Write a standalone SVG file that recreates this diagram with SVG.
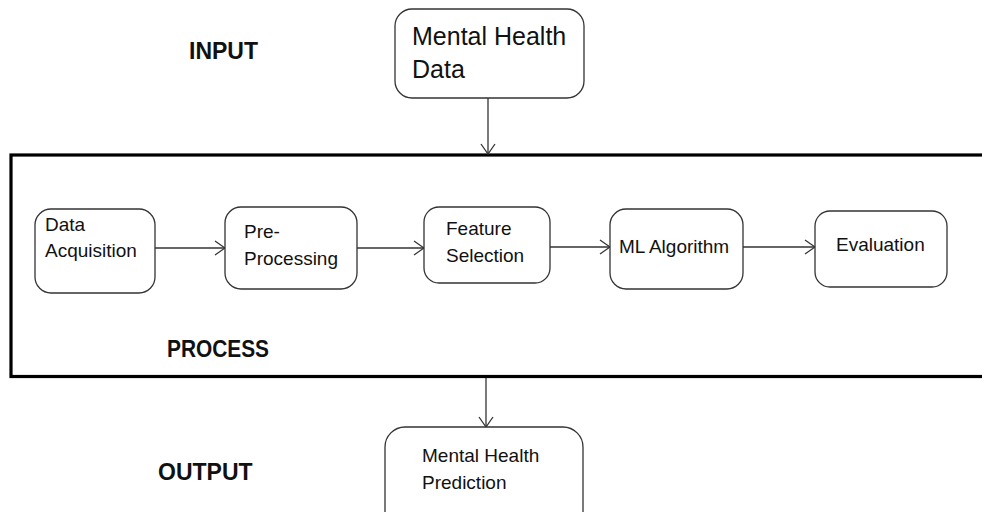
<svg xmlns="http://www.w3.org/2000/svg" width="982" height="512" viewBox="0 0 982 512">
<style>
.box{fill:#fff;stroke:#333;stroke-width:1.3}
.t{font-family:"Liberation Sans",Arial,sans-serif;font-size:19px;fill:#111}
.big{font-size:25px}
.lbl{font-family:"Liberation Sans",Arial,sans-serif;font-size:23px;font-weight:bold;fill:#111}
.c{stroke:#333;stroke-width:1.3;fill:none}
.frame{fill:none;stroke:#000;stroke-width:3.2}
</style>
<defs>
<marker id="ah" markerWidth="12" markerHeight="16" refX="11" refY="8" orient="auto" markerUnits="userSpaceOnUse">
<path d="M1,1 L11,8 L1,15" fill="none" stroke="#333" stroke-width="1.3"/>
</marker>
</defs>
<rect width="982" height="512" fill="#fff"/>
<rect class="frame" x="11" y="155" width="990" height="221.5"/>
<text class="lbl" x="189" y="59">INPUT</text>
<text class="lbl" x="167" y="357" textLength="102" lengthAdjust="spacingAndGlyphs">PROCESS</text>
<text class="lbl" x="158" y="480">OUTPUT</text>
<g id="connectors">
<line class="c" x1="488" y1="98" x2="488" y2="154" marker-end="url(#ah)"/>
<line class="c" x1="155" y1="248" x2="225" y2="248" marker-end="url(#ah)"/>
<line class="c" x1="357" y1="248" x2="424" y2="248" marker-end="url(#ah)"/>
<line class="c" x1="550" y1="247" x2="610" y2="247" marker-end="url(#ah)"/>
<line class="c" x1="743" y1="247" x2="815" y2="247" marker-end="url(#ah)"/>
<line class="c" x1="486" y1="378" x2="486" y2="427" marker-end="url(#ah)"/>
</g>
<g id="mental-health-data">
<rect class="box" x="395" y="9" width="189" height="89" rx="17"/>
<text class="t big" x="412" y="45">Mental Health</text>
<text class="t big" x="412" y="78">Data</text>
</g>
<g id="data-acquisition">
<rect class="box" x="35" y="209" width="120" height="84" rx="16"/>
<text class="t" x="45" y="231">Data</text>
<text class="t" x="45" y="257">Acquisition</text>
</g>
<g id="pre-processing">
<rect class="box" x="225" y="207" width="132" height="82" rx="16"/>
<text class="t" x="244" y="238">Pre-</text>
<text class="t" x="244" y="265">Processing</text>
</g>
<g id="feature-selection">
<rect class="box" x="424" y="207" width="126" height="76" rx="15"/>
<text class="t" x="446" y="235">Feature</text>
<text class="t" x="446" y="262">Selection</text>
</g>
<g id="ml-algorithm">
<rect class="box" x="610" y="209" width="133" height="80" rx="16"/>
<text class="t" x="619" y="253">ML Algorithm</text>
</g>
<g id="evaluation">
<rect class="box" x="815" y="211" width="132" height="76" rx="15"/>
<text class="t" x="836" y="251">Evaluation</text>
</g>
<g id="mental-health-prediction">
<rect class="box" x="385" y="427" width="198" height="110" rx="20"/>
<text class="t" x="422" y="462">Mental Health</text>
<text class="t" x="422" y="489">Prediction</text>
</g>
</svg>
